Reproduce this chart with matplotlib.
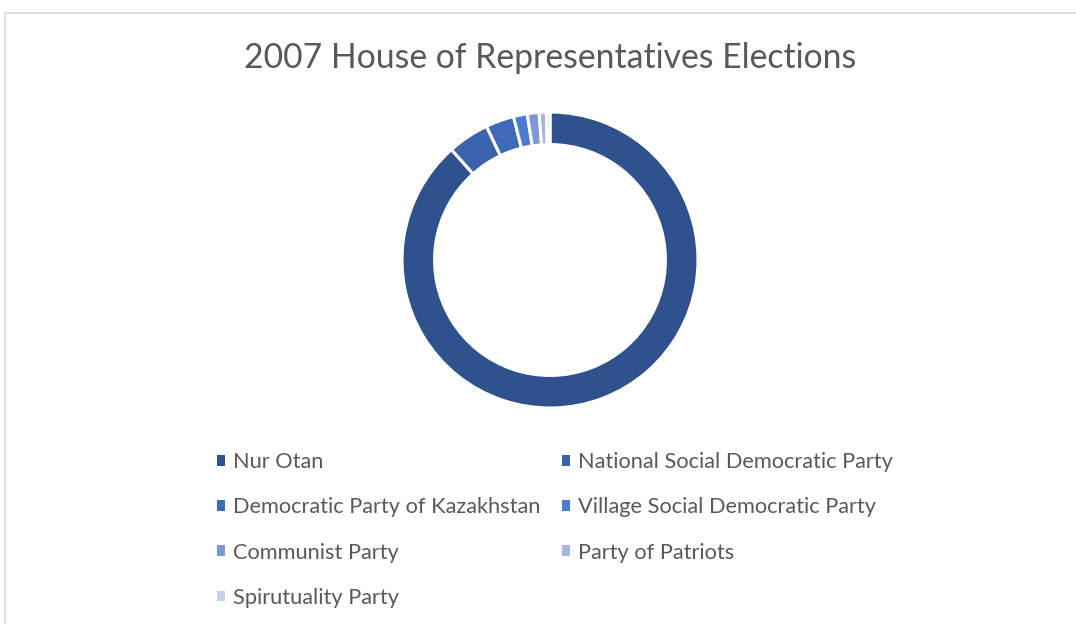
#!/usr/bin/env python3
"""Donut chart of the 2007 House of Representatives elections."""

import matplotlib

matplotlib.use("Agg")
import matplotlib.pyplot as plt
from matplotlib.patches import Rectangle

plt.rcParams["font.family"] = ["Lato", "DejaVu Sans"]

# Data
parties = [
    "Nur Otan",
    "National Social Democratic Party",
    "Democratic Party of Kazakhstan",
    "Village Social Democratic Party",
    "Communist Party",
    "Party of Patriots",
    "Spirutuality Party",
]
vote_share = [88.41, 4.54, 3.09, 1.51, 1.29, 0.78, 0.39]
colors = ["#2F528F", "#3A63AD", "#4069B8", "#4B7BD1", "#7E98D0", "#A6B5DD", "#C7D1EA"]

TEXT_GRAY = "#595959"
BORDER_GRAY = "#D9D9D9"

fig = plt.figure(figsize=(10.76, 6.24), dpi=100)

# Chart-area border (runs off the right and bottom edges)
fig.add_artist(Rectangle((4.5 / 1076, -0.1), 1.2, 1.1 - 12.5 / 624,
                         transform=fig.transFigure, fill=False,
                         edgecolor=BORDER_GRAY, linewidth=1.2))

# Donut: centre (550, 260) px, outer radius ~148 px
r_px = 148
ax = fig.add_axes([(550 - r_px) / 1076, 1 - (260 + r_px) / 624,
                   2 * r_px / 1076, 2 * r_px / 624])
ax.pie(vote_share, colors=colors, startangle=90, counterclock=False,
       radius=1.0,
       wedgeprops=dict(width=0.22, edgecolor="white", linewidth=2.2))
ax.set_aspect("equal")
ax.set_xlim(-1.0, 1.0)
ax.set_ylim(-1.0, 1.0)
ax.axis("off")

fig.text(550 / 1076, 1 - 58 / 624, "2007 House of Representatives Elections",
         ha="center", va="center", fontsize=24.3, color=TEXT_GRAY)

# Legend, filled row by row like the original (matplotlib fills column-first)
handles = [Rectangle((0, 0), 1, 1, facecolor=c, edgecolor="none") for c in colors]
order = [0, 2, 4, 6, 1, 3, 5]
leg = fig.legend([handles[i] for i in order], [parties[i] for i in order],
                 ncol=2, loc="upper left",
                 bbox_to_anchor=(217 / 1076, 1 - 452 / 624),
                 frameon=False, fontsize=15.7, labelcolor=TEXT_GRAY,
                 handlelength=0.38, handleheight=0.38, handletextpad=0.34,
                 columnspacing=1.0, labelspacing=1.16, borderpad=0,
                 borderaxespad=0)

fig.savefig("out.png", dpi=100)
